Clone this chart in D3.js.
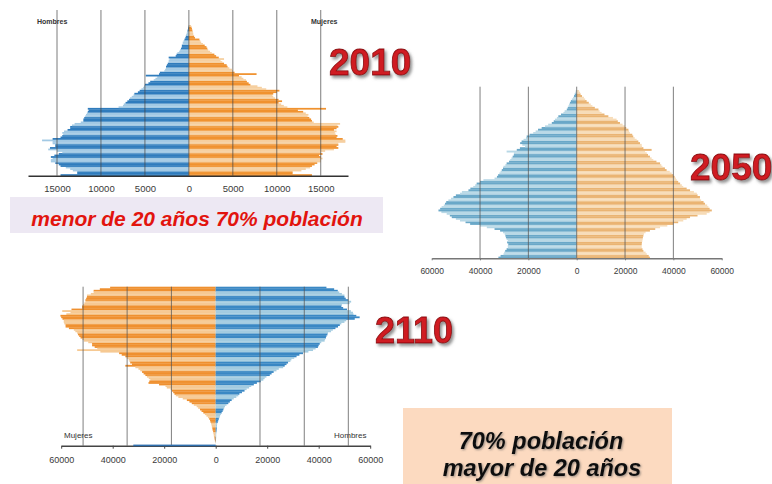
<!DOCTYPE html>
<html><head><meta charset="utf-8">
<script src="https://cdn.jsdelivr.net/npm/d3@7"></script>
<style>body{margin:0;background:#fff}svg{display:block}</style>
</head><body>
<svg id="c" width="772" height="484"></svg>
<script>
// ---- 2010 (index 0 = age 0, bottom) ----
const hombres2010 = [14600,12700,12700,13200,13500,14000,14600,14800,15200,15700,15700,15500,15700,15300,14800,14400,15000,16000,15800,15200,15200,15500,15500,16700,15500,14600,14400,14300,14400,14200,13800,13500,13500,13300,13000,12300,12000,12000,11900,11800,11700,11600,11500,11400,11500,8000,7500,7400,7200,7000,6800,6700,6500,6300,6200,5800,5600,5400,5200,5100,5000,4600,4400,4000,3800,3600,4900,3400,3300,2800,2700,2600,2600,2500,2400,2300,2300,2200,2300,1500,1400,1300,1100,1000,900,800,800,700,700,600,500,400,350,300,250,200,150,100,80,50];
const mujeres2010 = [14000,11800,11800,12800,13300,13800,14000,14300,14600,15000,15000,15200,15000,14800,15200,15000,15500,16500,17000,16800,17000,17000,17800,17800,17500,16800,16900,16700,16600,16800,16500,16800,17000,16900,17200,14200,14000,13900,13700,13500,13600,13300,13000,12400,15600,11200,10800,10500,10200,10600,10200,9800,9600,9500,9600,10000,10300,8800,8300,7800,7000,6800,6600,6500,6200,6000,5700,7700,5200,5000,4900,4600,4400,4300,4000,3800,3600,4000,3400,3100,2900,2600,2400,2200,2100,2000,1800,1600,1400,1300,1200,700,600,500,500,450,400,350,300,250];
const ticks2010 = [-15000,-10000,-5000,0,5000,10000,15000];
const tickLabels2010 = ["15000","10000","5000","0","5000","10000","15000"];

// ---- 2050 (index 0 = age 0, bottom) ----
const hombres2050 = [32400,31500,30300,30000,29600,29000,28500,28500,28300,28800,28500,29000,29300,29500,29800,30500,31700,34000,37200,40000,44100,46000,48300,50000,51700,52500,53800,56000,57200,56500,55900,55000,54500,54000,53100,52000,51000,50000,48300,47500,44800,44000,42800,42000,41400,40000,38600,34000,33000,32500,32000,31500,31000,30500,30300,29500,29000,28000,27500,27000,26500,26000,26000,29000,24800,23500,21400,22500,23400,22800,22000,21000,20700,19500,18000,17000,16000,14500,13100,11800,10300,9500,9000,8200,7600,6500,5500,5000,4100,3700,3400,3200,2800,2400,2000,1500,1100,800,600,400];
const mujeres2050 = [30300,29800,29000,28500,27600,27200,26900,26900,26900,27000,27200,27300,27400,27600,27800,28500,30300,32500,34500,37500,40000,42000,44100,45500,46900,50000,53800,55000,55900,55000,54500,54000,53100,52500,51500,51000,51000,50000,49700,48500,46900,45500,44100,43500,42800,42000,41400,41000,40500,40000,39300,38500,37200,36500,35500,35000,34500,33000,31700,31000,30300,29500,29000,28300,31000,27600,27000,26900,26200,25500,24800,24000,23400,23000,22000,21700,21400,20500,20000,19000,17900,17000,16500,15000,13100,11500,10300,9500,9000,7500,6500,5800,5000,4100,3500,3000,2200,1600,1400,1000];
const ticks2050 = [-60000,-40000,-20000,0,20000,40000,60000];
const tickLabels2050 = ["60000","40000","20000","0","20000","40000","60000"];
const grid2050 = [-40000,-20000,0,20000,40000];

// ---- 2110 (index 0 = top row) ----
const mujeres2110 = [41000,45000,47400,47400,48500,50000,50000,50300,50600,50600,51000,51500,51900,51900,56000,59600,56400,58000,60300,60000,59500,59000,59000,58800,58300,58300,57000,55100,54500,53800,53500,53000,52500,51800,51200,49500,48000,48000,47000,46000,53800,44800,37500,36500,35100,34500,33800,33500,33200,32500,35100,31200,30000,29300,28600,28000,27300,26700,26000,25400,25800,26100,22000,19500,19000,17500,17000,16500,16000,15500,14500,12800,11200,10200,9300,8500,7400,6800,6100,5500,4800,4200,3600,3000,2500,2200,2000,1800,1600,1500,1300,1200,1000,900,800,700,500,400,300,200];
const hombres2110 = [43000,46000,47400,48000,49000,50000,50000,50500,51500,52600,52000,49000,48800,49500,51000,52500,53300,53500,54600,55900,54000,50700,50000,48800,48200,47500,46500,45500,44800,43600,43400,43000,42800,42500,42300,41000,40400,40000,39700,38800,37800,36000,33900,32500,31400,30500,29400,29000,28100,27500,26800,26200,24500,23600,22500,21700,21000,19700,19000,18500,17500,16000,14800,13800,13000,12000,11200,10200,9200,8800,8000,7000,6200,5500,4900,4200,3600,3300,3000,2700,2300,2000,1700,1500,1200,1000,800,600,500,450,400,350,300,250,200,180,150,120,100,80];
const baseBar2110 = 32000;
const ticks2110 = [-60000,-40000,-20000,0,20000,40000,60000];
const tickLabels2110 = ["60000","40000","20000","0","20000","40000","60000"];
const grid2110 = [-51500,-34400,-17200,17200,34400,51500];

const svg = d3.select("#c");
svg.append("rect").attr("width",772).attr("height",484).attr("fill","#fff");
const defs = svg.append("defs");
const sh = defs.append("filter").attr("id","sh").attr("x","-20%").attr("y","-30%").attr("width","150%").attr("height","170%");
sh.append("feDropShadow").attr("dx",2).attr("dy",2.5).attr("stdDeviation",1.6).attr("flood-color","#6a6a6a").attr("flood-opacity",0.75);
const sh2 = defs.append("filter").attr("id","sh2").attr("x","-10%").attr("y","-30%").attr("width","130%").attr("height","170%");
sh2.append("feDropShadow").attr("dx",1).attr("dy",1).attr("stdDeviation",1).attr("flood-color","#555").attr("flood-opacity",0.6);

function pyramid(o){
  const g = svg.append("g");
  const x = d3.scaleLinear().domain(o.domain).range(o.range);
  const n = o.left.length;
  const y = d3.scaleBand().domain(d3.range(n))
    .range(o.topDown ? [o.top, o.bottom] : [o.bottom, o.top]).padding(0);
  const col = (c,i) => Math.floor(i/o.stripe)%2 ? c[1] : c[0];
  g.append("g").selectAll("rect").data(o.left).join("rect")
    .attr("x", d => x(-d)).attr("width", d => x(0)-x(-d))
    .attr("y", (d,i) => y(i)).attr("height", y.bandwidth()+0.25)
    .attr("fill", (d,i) => col(o.leftColors,i));
  g.append("g").selectAll("rect").data(o.right).join("rect")
    .attr("x", x(0)).attr("width", d => x(d)-x(0))
    .attr("y", (d,i) => y(i)).attr("height", y.bandwidth()+0.25)
    .attr("fill", (d,i) => col(o.rightColors,i));
  g.append("g").selectAll("line").data(o.grid).join("line")
    .attr("x1", d => x(d)).attr("x2", d => x(d))
    .attr("y1", o.gridTop).attr("y2", o.axisY)
    .attr("stroke", o.gridColor).attr("stroke-width", 1).attr("opacity", o.gridOpacity);
  const ax = g.append("g").attr("transform", `translate(0,${o.axisY})`)
    .call(d3.axisBottom(x).tickValues(o.ticks).tickFormat((d,i)=>o.tickLabels[i])
      .tickSizeInner(o.tickSize).tickSizeOuter(0).tickPadding(o.tickPad));
  ax.select(".domain").attr("stroke", o.axisColor).attr("stroke-width", 1.4);
  ax.selectAll(".tick line").attr("stroke", o.axisColor);
  ax.selectAll("text").attr("font-family","Liberation Sans, Arial, sans-serif")
    .attr("font-size", o.tickFont).attr("fill","#3a3a3a");
  return {g, x, y};
}

// 2010
const p1 = pyramid({
  left: hombres2010, right: mujeres2010, topDown:false, top:25, bottom:175.7,
  domain:[-18300,18100], range:[28,348], stripe:3,
  leftColors:["#2f7cbd","#a2c9e4"], rightColors:["#f0922f","#f6cf9f"],
  grid: ticks2010, gridTop:10, gridColor:"#444", gridOpacity:0.7,
  axisY:175.7, ticks:ticks2010, tickLabels:tickLabels2010, tickSize:0, tickPad:10,
  axisColor:"#333", tickFont:9.5
});
p1.g.append("text").attr("x",37).attr("y",24).text("Hombres")
  .attr("font-family","Liberation Sans, Arial").attr("font-size",7).attr("font-weight","bold").attr("fill","#333");
p1.g.append("text").attr("x",311).attr("y",24).text("Mujeres")
  .attr("font-family","Liberation Sans, Arial").attr("font-size",7).attr("font-weight","bold").attr("fill","#333");

// 2050
pyramid({
  left: hombres2050, right: mujeres2050, topDown:false, top:90, bottom:258.3,
  domain:[-60000,60000], range:[431.7,721.7], stripe:2,
  leftColors:["#6aa8c8","#b8d8e6"], rightColors:["#eab473","#f7dcb8"],
  grid: grid2050, gridTop:86.7, gridColor:"#555", gridOpacity:0.75,
  axisY:258.3, ticks:ticks2050, tickLabels:tickLabels2050, tickSize:2, tickPad:8,
  axisColor:"#777", tickFont:8.5
});

// 2110
const p3 = pyramid({
  left: mujeres2110, right: hombres2110, topDown:true, top:286.7, bottom:443,
  domain:[-60000,60000], range:[61.2,370.2], stripe:3,
  leftColors:["#ef902f","#f6c993"], rightColors:["#3a88c4","#a2cbe0"],
  grid: grid2110, gridTop:286.7, gridColor:"#555", gridOpacity:0.75,
  axisY:445.7, ticks:ticks2110, tickLabels:tickLabels2110, tickSize:3, tickPad:8,
  axisColor:"#444", tickFont:9
});
p3.g.append("rect").attr("x", p3.x(-baseBar2110)).attr("width", p3.x(0)-p3.x(-baseBar2110))
  .attr("y", 444.6).attr("height", 1.6).attr("fill","#2f6fae");
p3.g.append("text").attr("x",64).attr("y",438).text("Mujeres")
  .attr("font-family","Liberation Sans, Arial").attr("font-size",8).attr("fill","#333");
p3.g.append("text").attr("x",334).attr("y",438).text("Hombres")
  .attr("font-family","Liberation Sans, Arial").attr("font-size",8).attr("fill","#333");

// Year titles
function year(t, x, y, s){
  svg.append("text").attr("x",x).attr("y",y).text(t)
    .attr("font-family","Liberation Sans, Arial, sans-serif").attr("font-weight","bold")
    .attr("font-size",s).attr("fill","#cf1a20").attr("stroke","#8a0a0e").attr("stroke-width",0.8)
    .attr("filter","url(#sh)");
}
year("2010", 329, 75, 37);
year("2050", 690, 180, 37);
year("2110", 375, 343, 36);

// Boxes
svg.append("rect").attr("x",10).attr("y",197).attr("width",373).attr("height",36).attr("fill","#ede8f3");
svg.append("text").attr("x",197).attr("y",226).attr("text-anchor","middle")
  .text("menor de 20 años 70% población")
  .attr("font-family","Liberation Sans, Arial, sans-serif").attr("font-weight","bold").attr("font-style","italic")
  .attr("font-size",21).attr("fill","#e2140e");

svg.append("rect").attr("x",403).attr("y",408).attr("width",269).attr("height",76).attr("fill","#fcdac0");
const txtStyle = s => s.attr("text-anchor","middle")
  .attr("font-family","Liberation Sans, Arial, sans-serif").attr("font-weight","bold").attr("font-style","italic")
  .attr("font-size",23.5).attr("fill","#111").attr("filter","url(#sh2)");
svg.append("text").attr("x",541).attr("y",449).text("70% población").call(txtStyle);
svg.append("text").attr("x",542).attr("y",476).text("mayor de 20 años").call(txtStyle);
</script>
</body></html>
